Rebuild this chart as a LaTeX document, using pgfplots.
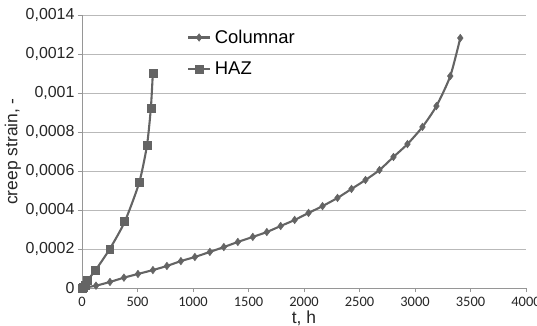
\documentclass[border=0pt]{standalone}
\usepackage{pgfplots}
\pgfplotsset{compat=1.18}
\usepackage{fontspec}
\setmainfont{Liberation Sans}
\newfontfamily\carlito{Carlito}

\definecolor{serie}{RGB}{100,100,100}
\definecolor{gridc}{RGB}{185,185,185}
\definecolor{axc}{RGB}{150,150,150}

\begin{document}
\begin{tikzpicture}
    \begin{axis}[
        at={(0,0)}, anchor=south west,
        scale only axis,
        width=444bp, height=273bp,
        xmin=0, xmax=4000,
        ymin=0, ymax=0.0014,
        xtick={0,500,...,4000},
        ytick={0,0.0002,0.0004,0.0006,0.0008,0.001,0.0012,0.0014},
        yticklabels={0,{0,0002},{0,0004},{0,0006},{0,0008},{0,001},{0,0012},{0,0014}},
        scaled y ticks=false,
        axis x line*=bottom,
        axis y line*=left,
        axis line style={draw=axc, line width=0.8pt},
        tick style={draw=axc, line width=0.8pt},
        tick align=outside,
        major tick length=4bp,
        ymajorgrids,
        major grid style={draw=gridc, line width=0.9pt},
        x tick label style={font=\carlito\fontsize{14.5}{16}\selectfont, text=black!85, yshift=-1.5bp},
        y tick label style={font=\fontsize{16}{18}\selectfont, text=black!85},
        /pgf/number format/assume math mode=true,
        /pgf/number format/1000 sep={},
        xlabel={t, h},
        ylabel={creep strain, -},
        label style={font=\fontsize{17.5}{19}\selectfont, text=black!85},
        xlabel style={at={(axis description cs:0.5,0)}, anchor=north,
                      yshift=-22.5bp, inner sep=0pt},
        ylabel style={yshift=-2bp},
        legend style={
            at={(0.23,0.96)}, anchor=north west,
            draw=none, fill=none,
            font=\fontsize{18.5}{20}\selectfont,
            row sep=13bp,
            /tikz/every odd column/.append style={column sep=2bp},
        },
        legend image code/.code={
            \draw[mark repeat=2,mark phase=2]
            plot coordinates {(0cm,0cm) (0.38cm,0cm) (0.76cm,0cm)};
        },
        legend cell align=left,
        clip=false,
    ]
    \addplot[serie, line width=2.1pt, smooth, tension=0.4,
             mark=diamond*, mark size=3.8pt, mark options={fill=serie, draw=serie, line width=0.5pt}]
        coordinates {
        (0,0) (126,0.000012) (252,0.000031) (378,0.000053) (504,0.000072)
        (639,0.000092) (765,0.000113) (891,0.000138) (1017,0.000159)
        (1152,0.000185) (1278,0.00021) (1404,0.000236) (1539,0.000262)
        (1665,0.000287) (1790,0.000318) (1916,0.000349) (2041,0.000385)
        (2167,0.00042) (2302,0.000462) (2428,0.000508) (2554,0.000554)
        (2680,0.000605) (2806,0.000672) (2932,0.000738) (3067,0.000826)
        (3193,0.000933) (3318,0.001087) (3408,0.001282)
        };
    \addlegendentry{Columnar}
    \addplot[serie, line width=2.1pt, smooth, tension=0.4,
             mark=square*, mark size=4pt, mark options={fill=serie, draw=serie, line width=0.5pt}]
        coordinates {
        (0,0) (10,0.000005) (25,0.000015) (50,0.00004) (120,0.00009)
        (250,0.0002) (385,0.00034) (515,0.00054) (585,0.00073)
        (620,0.00092) (638,0.0011)
        };
    \addlegendentry{HAZ}
    \end{axis}
    \pgfresetboundingbox
    \useasboundingbox (-82bp,-38bp) rectangle (455bp,288bp);
\end{tikzpicture}
\end{document}
